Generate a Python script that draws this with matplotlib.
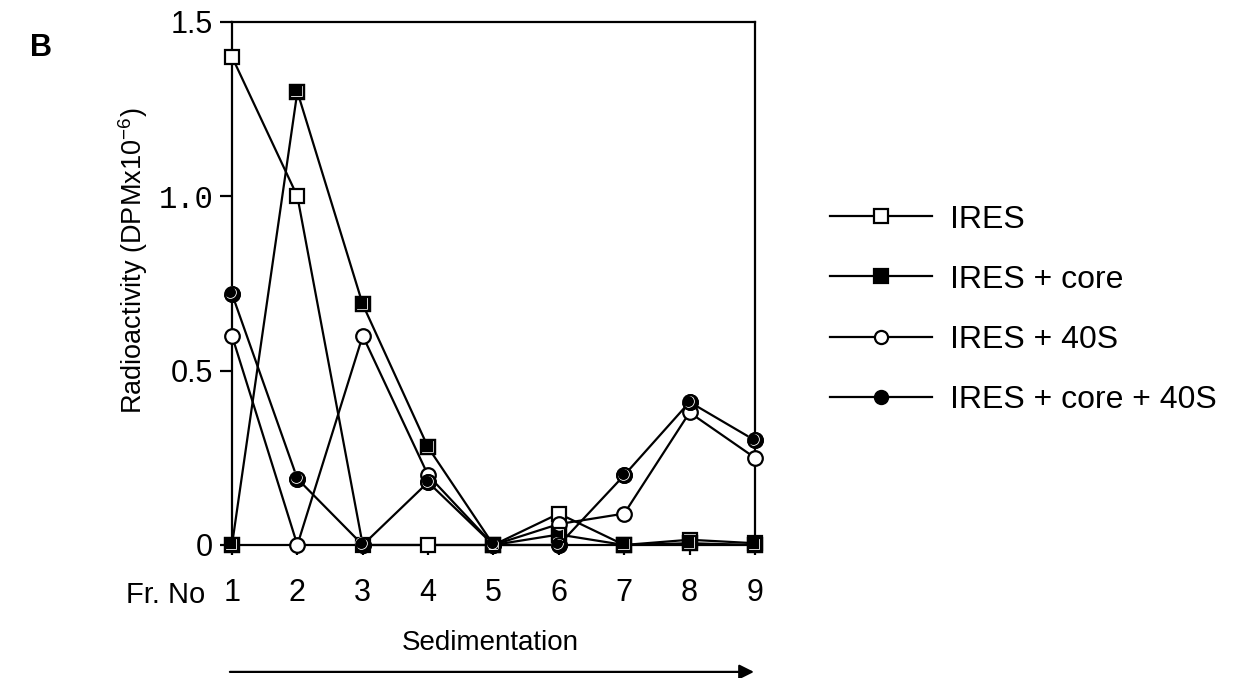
import matplotlib
matplotlib.use("Agg")
import matplotlib.pyplot as plt
import matplotlib.transforms as mtransforms

plt.rcParams['font.family'] = ['Liberation Sans', 'DejaVu Sans']
plt.rcParams['mathtext.fontset'] = 'custom'
plt.rcParams['mathtext.rm'] = 'Liberation Sans'

fractions = [1, 2, 3, 4, 5, 6, 7, 8, 9]
ires = [1.40, 1.00, 0.0, 0.0, 0.0, 0.09, 0.0, 0.015, 0.005]
ires_core = [0.0, 1.30, 0.69, 0.28, 0.0, 0.03, 0.0, 0.005, 0.0]
ires_40s = [0.60, 0.0, 0.60, 0.20, 0.0, 0.06, 0.09, 0.38, 0.25]
ires_core_40s = [0.72, 0.19, 0.0, 0.18, 0.0, 0.0, 0.20, 0.41, 0.30]

series_labels = ["IRES", "IRES + core", "IRES + 40S", "IRES + core + 40S"]
y_ticks = [0, 0.5, 1.0, 1.5]
y_tick_labels = ["0", "0.5", "1.0", "1.5"]

fig = plt.figure(figsize=(12.36, 6.78), dpi=100)
ax = fig.add_axes([0.1877, 0.1962, 0.4231, 0.7714])

LW = 1.6
MS = 10.5
styles = [('s', 'white'), ('s', 'black'), ('o', 'white'), ('o', 'black')]
series = [ires, ires_core, ires_40s, ires_core_40s]

# small up-left shift used for the white highlight inside filled symbols
shift = mtransforms.ScaledTranslation(-0.015, 0.015, fig.dpi_scale_trans)

handles = []
for vals, (mk, fc), lab in zip(series, styles, series_labels):
    h, = ax.plot(fractions, vals, color='black', linewidth=LW,
                 marker=mk, markerfacecolor=fc, markeredgecolor='black',
                 markeredgewidth=LW, markersize=MS, clip_on=False,
                 label=lab, zorder=3)
    handles.append(h)
    if fc == 'black':
        ax.plot(fractions, vals, linestyle='none', marker=mk,
                markerfacecolor='none', markeredgecolor='white',
                markeredgewidth=0.6, markersize=MS - 2.0, clip_on=False,
                zorder=3.1, transform=ax.transData + shift)
        ax.plot(fractions, vals, linestyle='none', marker=mk,
                markerfacecolor='none', markeredgecolor='black',
                markeredgewidth=LW, markersize=MS, clip_on=False,
                zorder=3.2)

ax.set_xlim(1, 9)
ax.set_ylim(0, 1.5)
ax.set_xticks(fractions)
ax.set_xticklabels([str(f) for f in fractions])
ax.set_yticks(y_ticks)
ax.set_yticklabels(y_tick_labels)
ax.tick_params(axis='both', labelsize=22, width=LW, color='black')
ax.tick_params(axis='y', length=8.6, pad=5)
ax.tick_params(axis='x', length=7, pad=17)
ax.get_yticklabels()[2].set_family('Liberation Mono')

for sp in ax.spines.values():
    sp.set_linewidth(LW)

fig.text(0.108, 0.615, "Radioactivity (DPMx10$^{\\mathrm{-6}}$)", rotation=90,
         ha='center', va='center', fontsize=19.5)
fig.text(0.166, 0.122, "Fr. No", ha='right', va='center', fontsize=21)
fig.text(0.397, 0.052, "Sedimentation", ha='center', va='center', fontsize=20)
fig.text(0.024, 0.929, "B", ha='left', va='center', fontsize=22, fontweight='bold')

ax.annotate("", xy=(0.610, 0.009), xytext=(0.186, 0.009),
            xycoords='figure fraction', textcoords='figure fraction',
            arrowprops=dict(arrowstyle='-|>', color='black', lw=LW,
                            mutation_scale=22, shrinkA=0, shrinkB=0))

leg = fig.legend(handles=handles, loc='upper left',
                 bbox_to_anchor=(0.661, 0.717), frameon=False,
                 fontsize=23, handlelength=3.2, handletextpad=0.55,
                 labelspacing=0.94, markerscale=0.9, borderaxespad=0)

fig.savefig("out.png", dpi=100)
